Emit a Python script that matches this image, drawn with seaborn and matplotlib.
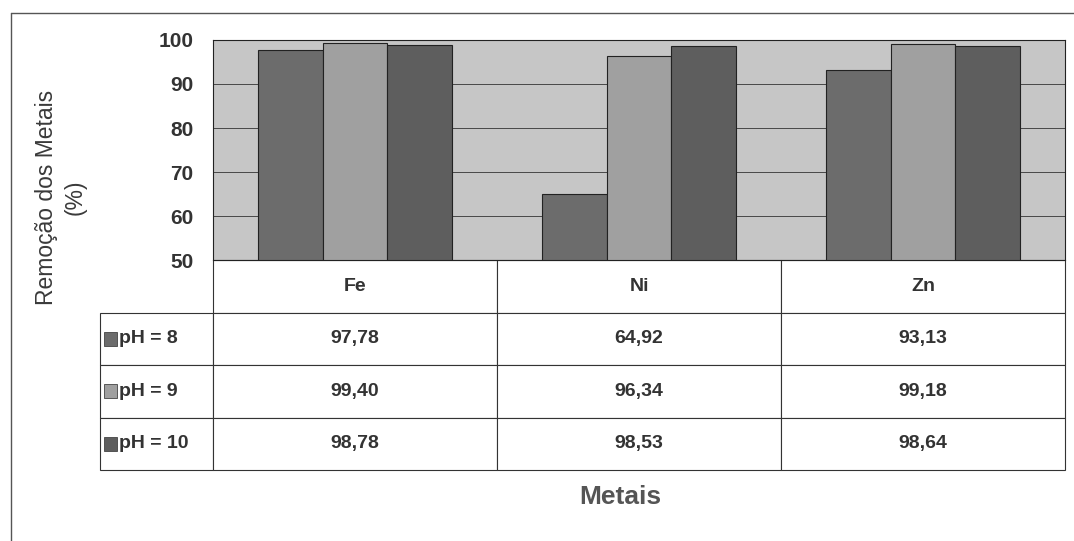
import pandas as pd
import seaborn as sns
import matplotlib.pyplot as plt
from matplotlib.patches import Rectangle

# Data
metals = ['Fe', 'Ni', 'Zn']
ph_labels = ['pH = 8', 'pH = 9', 'pH = 10']
ph8 = [97.78, 64.92, 93.13]
ph9 = [99.40, 96.34, 99.18]
ph10 = [98.78, 98.53, 98.64]
colors = ['#6c6c6c', '#a0a0a0', '#5e5e5e']

data = pd.DataFrame({
    'Metal': metals * 3,
    'pH': [ph_labels[0]] * 3 + [ph_labels[1]] * 3 + [ph_labels[2]] * 3,
    'Remocao': ph8 + ph9 + ph10,
})

sns.set_style('white')
plt.rcParams['font.family'] = ['Liberation Sans', 'DejaVu Sans']

fig = plt.figure(figsize=(10.74, 5.41), dpi=100)
ax = fig.add_axes([213 / 1074, 1 - 260 / 541, 852 / 1074, 220 / 541])
ax.set_facecolor('#c6c6c6')

sns.barplot(data=data, x='Metal', y='Remocao', hue='pH', palette=colors,
            width=0.68, edgecolor='#222222', linewidth=0.8, ax=ax, legend=False)

ax.set_ylim(50, 100)
ax.set_yticks(range(50, 101, 10))
ax.yaxis.grid(True, color='#333333', linewidth=0.6)
ax.set_axisbelow(True)
ax.tick_params(axis='y', labelsize=15, length=0, pad=14)
for lbl in ax.get_yticklabels():
    lbl.set_fontweight('bold')
    lbl.set_color('#333333')
ax.set_xticks([])
ax.set_xlabel('')
ax.set_ylabel('')
for s in ax.spines.values():
    s.set_color('#222222')
    s.set_linewidth(0.8)

# data table below the plot (first column holds the series labels)
label_w = 113 / 852
cell_text = [[lab] + [f'{v:.2f}'.replace('.', ',') for v in row]
             for lab, row in zip(ph_labels, (ph8, ph9, ph10))]
tbl = ax.table(cellText=cell_text, colLabels=[''] + metals,
               cellLoc='center', colWidths=[label_w] + [1 / 3] * 3,
               bbox=[-label_w, -210 / 220, 1 + label_w, 210 / 220])
tbl.auto_set_font_size(False)
for (r, c), cell in tbl.get_celld().items():
    cell.set_edgecolor('#333333')
    cell.set_linewidth(0.8)
    txt = cell.get_text()
    txt.set_fontsize(14)
    txt.set_fontweight('bold')
    txt.set_color('#333333')
    if c == 0:
        cell._loc = 'left'
        txt.set_ha('left')
        cell.PAD = 0.17
    if r == 0 and c == 0:
        cell.visible_edges = ''

# legend keys inside the label cells
for i, col in enumerate(colors):
    y0 = -(52.5 * (i + 1) + 26) / 220 - 7 / 220
    ax.add_patch(Rectangle((-109 / 852, y0), 13 / 852, 14 / 220, transform=ax.transAxes,
                           facecolor=col, edgecolor='#444444', linewidth=0.6,
                           clip_on=False, zorder=5))

fig.text(46 / 1074, 1 - 197 / 541, 'Remoção dos Metais', rotation=90, ha='center', va='center',
         fontsize=16.5, color='#3a3a3a')
fig.text(75 / 1074, 1 - 197 / 541, '(%)', rotation=90, ha='center', va='center',
         fontsize=16.5, color='#3a3a3a')
fig.text(620 / 1074, 1 - 497 / 541, 'Metais', ha='center', va='center',
         fontsize=19, fontweight='bold', color='#555555')

# scanned page frame
fig.add_artist(plt.Line2D([11 / 1074, 11 / 1074], [0, 1 - 13 / 541], transform=fig.transFigure,
                          color='#555555', linewidth=1))
fig.add_artist(plt.Line2D([11 / 1074, 1], [1 - 13 / 541, 1 - 13 / 541], transform=fig.transFigure,
                          color='#555555', linewidth=1))

fig.savefig('out.png', dpi=100)
